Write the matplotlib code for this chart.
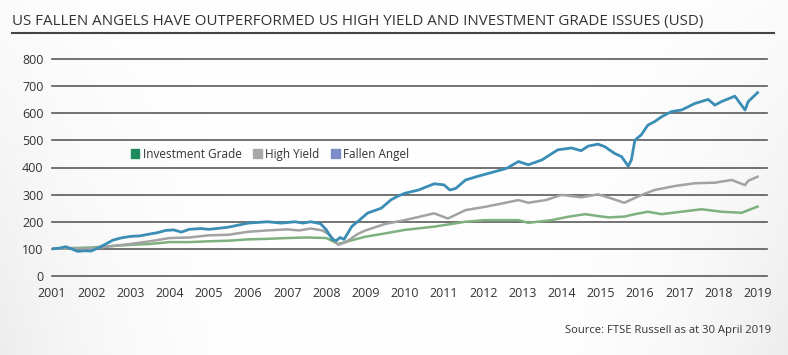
import matplotlib
matplotlib.use("Agg")
import matplotlib.pyplot as plt
from matplotlib.patches import Patch
import numpy as np

plt.rcParams['font.family'] = ['Open Sans', 'DejaVu Sans']

title = "US FALLEN ANGELS HAVE OUTPERFORMED US HIGH YIELD AND INVESTMENT GRADE ISSUES (USD)"
source = "Source: FTSE Russell as at 30 April 2019"
years = list(range(2001, 2020))
yticks = [0, 100, 200, 300, 400, 500, 600, 700, 800]

fa_x = [2001.0, 2001.2, 2001.35, 2001.5, 2001.65, 2001.85, 2002.0, 2002.2, 2002.4, 2002.55,
        2002.75, 2003.0, 2003.25, 2003.5, 2003.7, 2003.9, 2004.1, 2004.3, 2004.5, 2004.8,
        2005.0, 2005.2, 2005.5, 2005.7, 2006.0, 2006.3, 2006.5, 2006.85, 2007.2, 2007.4,
        2007.6, 2007.85, 2008.0, 2008.15, 2008.25, 2008.35, 2008.45, 2008.65, 2008.85, 2009.05,
        2009.4, 2009.65, 2009.8, 2010.0, 2010.35, 2010.75, 2011.0, 2011.15, 2011.3, 2011.55,
        2011.85, 2012.3, 2012.6, 2012.9, 2013.15, 2013.5, 2013.9, 2014.25, 2014.5, 2014.68,
        2014.93, 2015.1, 2015.35, 2015.53, 2015.7, 2015.78, 2015.87, 2016.03, 2016.2, 2016.37,
        2016.55, 2016.8, 2017.06, 2017.4, 2017.74, 2017.91, 2018.08, 2018.42, 2018.68, 2018.76,
        2019.0]
fa_y = [100, 103, 108, 100, 91, 93, 92, 105, 120, 132,
        140, 146, 148, 155, 160, 168, 170, 162, 172, 175,
        172, 175, 180, 186, 195, 198, 200, 195, 200, 195,
        200, 193, 170, 135, 130, 142, 135, 183, 207, 232,
        250, 281, 293, 305, 317, 340, 336, 317, 323, 354,
        367, 385, 397, 422, 410, 428, 465, 472, 462, 479,
        486, 477, 452, 440, 405, 428, 501, 520, 556, 569,
        587, 606, 612, 636, 651, 630, 643, 663, 612, 643,
        676]

hy_x = [2001.0, 2001.5, 2002.0, 2002.5, 2003.0, 2003.5, 2004.0, 2004.5, 2005.0, 2005.5,
        2006.0, 2006.5, 2007.0, 2007.3, 2007.6, 2007.9, 2008.1, 2008.3, 2008.5, 2008.8,
        2009.0, 2009.5, 2010.0, 2010.75, 2011.1, 2011.55, 2012.05, 2012.5, 2012.9, 2013.15,
        2013.6, 2014.0, 2014.5, 2014.93, 2015.27, 2015.6, 2015.75, 2016.03, 2016.37, 2016.9,
        2017.4, 2017.91, 2018.34, 2018.68, 2018.76, 2019.0]
hy_y = [100, 102, 100, 110, 118, 128, 140, 142, 150, 152,
        163, 168, 172, 168, 175, 168, 150, 115, 125, 155,
        168, 192, 206, 231, 212, 243, 255, 268, 280, 270,
        280, 299, 290, 301, 286, 270, 280, 298, 317, 332,
        342, 344, 354, 335, 351, 366]

ig_x = [2001.0, 2001.5, 2002.0, 2002.5, 2003.0, 2003.5, 2004.0, 2004.5, 2005.0, 2005.5,
        2006.0, 2006.5, 2007.0, 2007.5, 2008.0, 2008.3, 2008.6, 2009.0, 2009.5, 2010.0,
        2010.75, 2011.55, 2012.05, 2012.55, 2012.9, 2013.15, 2013.75, 2014.15, 2014.6, 2014.93,
        2015.2, 2015.6, 2015.87, 2016.2, 2016.55, 2017.06, 2017.57, 2018.08, 2018.59, 2019.0]
ig_y = [100, 103, 105, 110, 115, 118, 125, 125, 128, 130,
        135, 137, 140, 142, 140, 118, 130, 145, 157, 170,
        182, 200, 206, 206, 206, 196, 206, 218, 228, 221,
        216, 219, 228, 237, 228, 237, 246, 237, 233, 256]

fig = plt.figure(figsize=(7.88, 3.55), dpi=100)

# subtle background shading toward the edges
bg = fig.add_axes([0, 0, 1, 1], zorder=-10)
gx = np.linspace(-1, 1, 200)
gy = np.linspace(-1, 1, 100)
GX, GY = np.meshgrid(gx, gy)
shade = 1 - 0.07 * np.clip(np.abs(GX) ** 3, 0, 1) * np.clip(0.6 + 0.4 * GY, 0, 1)
bg.imshow(np.dstack([shade] * 3), aspect='auto', extent=[0, 1, 0, 1], origin='upper',
          interpolation='bilinear')
bg.set_axis_off()

ax = fig.add_axes([52/788, (355-276)/355, (767-52)/788, (276-59)/355])
ax.patch.set_alpha(0)
ax.set_xlim(2001, 2019.24)
ax.set_ylim(0, 800)

for v in yticks:
    ax.axhline(v, color='#5a5a5a', lw=1.2, zorder=1, clip_on=False)

ax.plot(ig_x, ig_y, color='#7fb07f', lw=1.8, zorder=3)
ax.plot(hy_x, hy_y, color='#a2a2a2', lw=1.8, zorder=3)
ax.plot(fa_x, fa_y, color='#3a8db5', lw=2.0, zorder=4)

for s in ax.spines.values():
    s.set_visible(False)
ax.set_xticks(years)
ax.set_xticklabels([str(y) for y in years])
ax.set_yticks(yticks)
ax.tick_params(axis='both', length=0, labelsize=9, colors='#333333')
ax.tick_params(axis='y', pad=6)
ax.tick_params(axis='x', pad=8)

handles = [Patch(color='#1f8a5e', label='Investment Grade'),
           Patch(color='#a8a8a8', label='High Yield'),
           Patch(color='#7d8cc6', label='Fallen Angel')]
ax.legend(handles=handles, loc='center', bbox_to_anchor=(0.305, 0.562), ncol=3, frameon=False,
          fontsize=8.5, handlelength=0.7, handleheight=0.7, handletextpad=0.3, columnspacing=1.0,
          labelcolor='#333333')

fig.text(12/788, 1 - 22/355, title, fontsize=10.9, color='#333333', va='center', ha='left')
fig.add_artist(plt.Line2D([12/788, 774/788], [1 - 33/355, 1 - 33/355], color='#444444', lw=1.5))
fig.text(771/788, 1 - 331/355, source, fontsize=8.1, color='#333333', va='center', ha='right')

fig.savefig('out.png', dpi=100)
